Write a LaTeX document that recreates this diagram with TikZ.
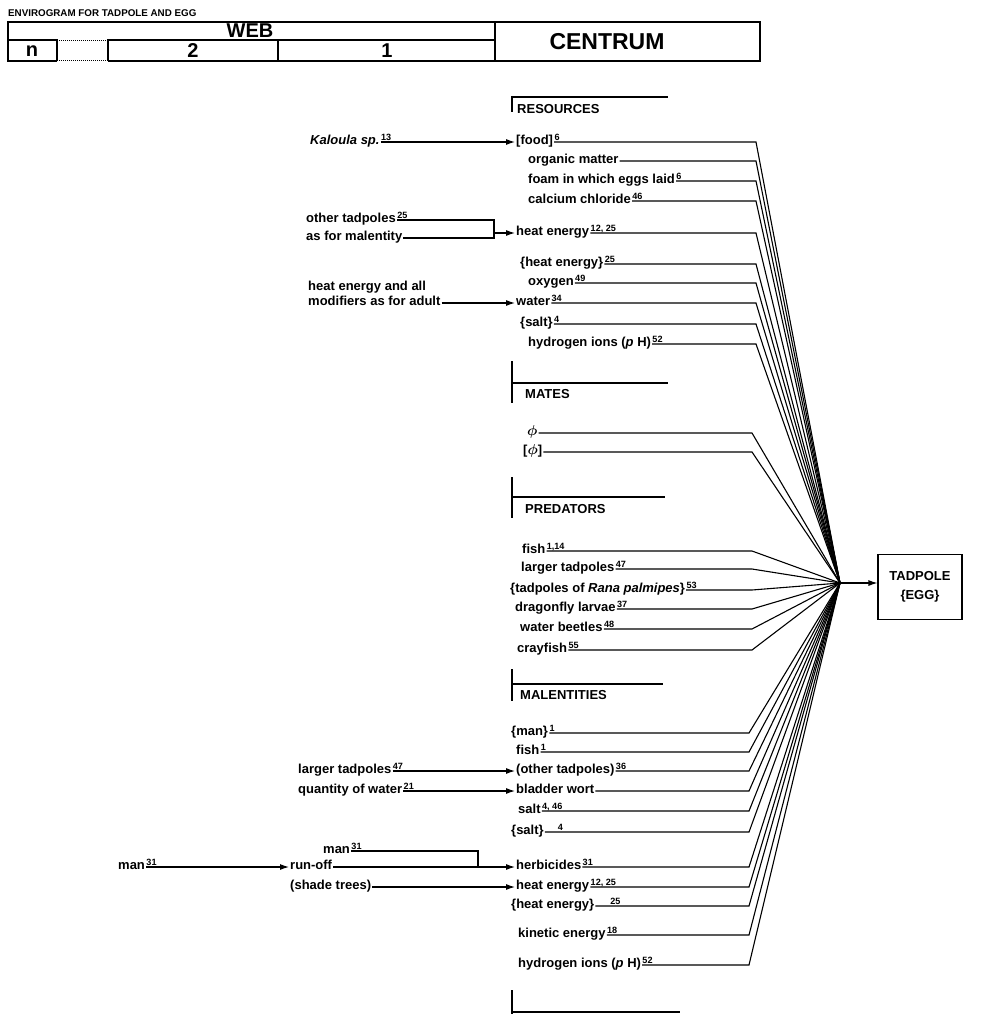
\documentclass[tikz,border=0pt]{standalone}
\usepackage{fontspec}
\usepackage{bm}
\setmainfont{Liberation Sans}
\usetikzlibrary{arrows.meta}
% reference number set over the start of a line
\newcommand{\fn}[1]{\rlap{\textsuperscript{\,#1}}}
\newcommand{\fphi}{{\fontsize{15}{15}\selectfont$\bm{\phi}$}}

\begin{document}
\begin{tikzpicture}[x=1pt,y=-1pt]
	\tikzstyle{lab}=[font=\fontsize{13}{15}\selectfont\bfseries, anchor=west, inner sep=1pt, text height=1.4ex, text depth=.3ex]
	\tikzstyle{hdr}=[font=\fontsize{20}{22}\selectfont\bfseries]
	\tikzstyle{wire}=[line width=1.1pt]
	\tikzstyle{feed}=[line width=1.1pt, -{Latex[length=9pt,width=6pt]}]
	\tikzstyle{secbar}=[line width=2.4pt]
	\tikzstyle{secline}=[line width=1.8pt]

	\useasboundingbox (0,0) rectangle (992,1014);

	% header table
	\node[anchor=west, inner sep=0pt, font=\fontsize{9.8}{11}\selectfont\bfseries] (title) at (8,13) {ENVIROGRAM FOR TADPOLE AND EGG};
	\draw[line width=1.4pt] (57,61) -- (8,61) -- (8,22) -- (760,22) -- (760,61) -- (108,61);
	\draw[line width=1.4pt] (8,40) -- (57,40) -- (57,61);
	\draw[line width=1.4pt] (108,61) -- (108,40) -- (495,40);
	\draw[line width=1.4pt] (278,40) -- (278,61);
	\draw[line width=1.4pt] (495,22) -- (495,61);
	\draw[line width=1pt, densely dotted] (57,41) -- (108,41);
	\draw[line width=1pt, densely dotted] (57,61) -- (108,61);
	\node[hdr] (web) at (250,31) {WEB};
	\node[hdr] (cn) at (32,51) {n};
	\node[hdr] (c2) at (193,51) {2};
	\node[hdr] (c1) at (387,51) {1};
	\node[hdr, font=\fontsize{23}{25}\selectfont\bfseries] (centrum) at (607,42) {CENTRUM};

	% section markers
	\draw[secbar] (512,96) -- (512,112);
	\draw[secline] (512,97) -- (668,97);
	\node[lab] (resources) at (516,111) {RESOURCES};
	\draw[secbar] (512,361) -- (512,403);
	\draw[secline] (512,383) -- (668,383);
	\node[lab] (mates) at (524,396) {MATES};
	\draw[secbar] (512,477) -- (512,518);
	\draw[secline] (512,497) -- (665,497);
	\node[lab] (predators) at (524,511) {PREDATORS};
	\draw[secbar] (512,669) -- (512,701);
	\draw[secline] (512,684) -- (663,684);
	\node[lab] (malentities) at (519,697) {MALENTITIES};
	\draw[secbar] (512,990) -- (512,1014);
	\draw[secline] (512,1012) -- (680,1012);

	% resources
	\node[lab] (food) at (515,142) {[food]\fn{6}};
	\node[lab] (org) at (527,161) {organic matter};
	\node[lab] (foam) at (527,181) {foam in which eggs laid\fn{6}};
	\node[lab] (cacl) at (527,201) {calcium chloride\fn{46}};
	\node[lab] (heatA) at (515,233) {heat energy\fn{12, 25}};
	\node[lab] (heatB) at (519,264) {\{heat energy\}\fn{25}};
	\node[lab] (oxy) at (527,283) {oxygen\fn{49}};
	\node[lab] (water) at (515,303) {water\fn{34}};
	\node[lab] (saltA) at (519,324) {\{salt\}\fn{4}};
	\node[lab] (hionA) at (527,344) {hydrogen ions (\textit{p} H)\fn{52}};

	\node[lab] (kal) at (309,142) {\textit{Kaloula sp.}\fn{13}};
	\node[lab] (oth) at (305,220) {other tadpoles\fn{25}};
	\node[lab] (asfor) at (305,238) {as for malentity};
	\node[lab] (hall) at (307,288) {heat energy and all};
	\node[lab] (hmod) at (307,303) {modifiers as for adult};

	% mates
	\node[lab] (phiA) at (526,433) {\fphi};
	\node[lab] (phiB) at (522,452) {[\fphi]};

	% predators
	\node[lab] (fishP) at (521,551) {fish\fn{1,14}};
	\node[lab] (largP) at (520,569) {larger tadpoles\fn{47}};
	\node[lab] (rana) at (509,590) {\{tadpoles of \textit{Rana palmipes}\}\fn{53}};
	\node[lab] (drag) at (514,609) {dragonfly larvae\fn{37}};
	\node[lab] (beet) at (519,629) {water beetles\fn{48}};
	\node[lab] (cray) at (516,650) {crayfish\fn{55}};

	% malentities
	\node[lab] (manM) at (510,733) {\{man\}\fn{1}};
	\node[lab] (fishM) at (515,752) {fish\fn{1}};
	\node[lab] (othM) at (515,771) {(other tadpoles)\fn{36}};
	\node[lab] (blad) at (515,791) {bladder wort};
	\node[lab] (saltB) at (517,811) {salt\fn{4, 46}};
	\node[lab] (saltC) at (510,832) {\{salt\}\fn{\hspace{1.4em}4}};
	\node[lab] (herb) at (515,867) {herbicides\fn{31}};
	\node[lab] (heatC) at (515,887) {heat energy\fn{12, 25}};
	\node[lab] (heatD) at (510,906) {\{heat energy\}\fn{\hspace{1.6em}25}};
	\node[lab] (kin) at (517,935) {kinetic energy\fn{18}};
	\node[lab] (hionB) at (517,965) {hydrogen ions (\textit{p} H)\fn{52}};

	\node[lab] (largL) at (297,771) {larger tadpoles\fn{47}};
	\node[lab] (qwat) at (297,791) {quantity of water\fn{21}};
	\node[lab] (manA) at (322,851) {man\fn{31}};
	\node[lab] (runoff) at (289,867) {run-off};
	\node[lab] (manB) at (117,867) {man\fn{31}};
	\node[lab] (shade) at (289,887) {(shade trees)};

	% tadpole
	\coordinate (hub) at (840,583);
	\node[draw, line width=1.1pt, minimum width=84, minimum height=65, align=center, font=\fontsize{13}{19}\selectfont\bfseries] (tad) at (920,587) {TADPOLE\\\{EGG\}};
	\draw[feed] (hub) -- (hub -| tad.west);

	% web arrows
	\draw[feed] (kal.east) -- (food.west);
	\coordinate (brA) at (494,0);
	\draw[wire] (oth.east) -- (oth.east -| brA) -- (asfor.east -| brA) -- (asfor.east);
	\draw[feed] (heatA.west -| brA) -- (heatA.west);
	\draw[feed] (hmod.east) -- (water.west);
	\draw[feed] (largL.east) -- (othM.west);
	\draw[feed] (qwat.east) -- (blad.west);
	\draw[feed] (manB.east) -- (runoff.west);
	\coordinate (brB) at (478,0);
	\draw[wire] (manA.east) -- (manA.east -| brB) -- (runoff.east -| brB) -- (runoff.east);
	\draw[feed] (herb.west -| brB) -- (herb.west);
	\draw[feed] (shade.east) -- (heatC.west);

	% lines into the centrum
	\coordinate (bendR) at (756,0);
	\coordinate (bendP) at (752,0);
	\coordinate (bendL) at (749,0);
	\foreach \n in {food,org,foam,cacl,heatA,heatB,oxy,water,saltA,hionA}
		\draw[wire] (\n.east) -- (\n.east -| bendR) -- (hub);
	\foreach \n in {phiA,phiB,fishP,largP,rana,drag,beet,cray}
		\draw[wire] (\n.east) -- (\n.east -| bendP) -- (hub);
	\foreach \n in {manM,fishM,othM,blad,saltB,saltC,herb,heatC,heatD,kin,hionB}
		\draw[wire] (\n.east) -- (\n.east -| bendL) -- (hub);
\end{tikzpicture}
\end{document}
